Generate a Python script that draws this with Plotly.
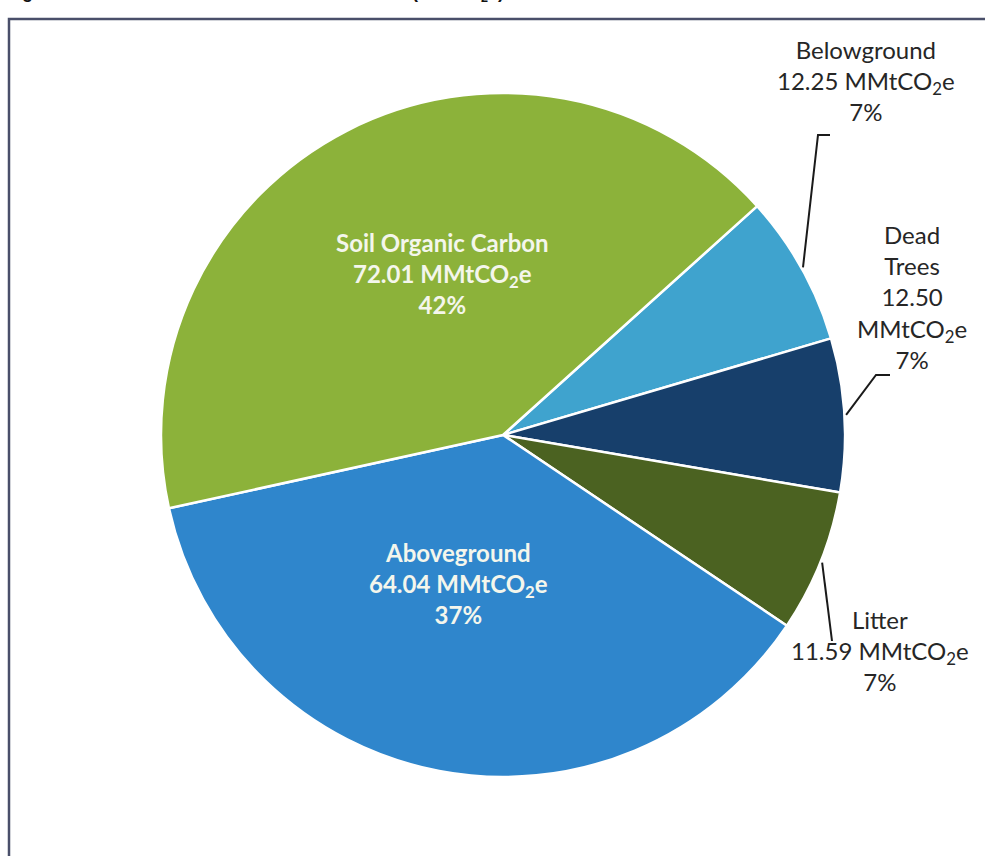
import math
import plotly.graph_objects as go

# ---- data ----
labels = ["Belowground", "Dead Trees", "Litter", "Aboveground", "Soil Organic Carbon"]
values = [12.25, 12.50, 11.59, 64.04, 72.01]
percents = ["7%", "7%", "7%", "37%", "42%"]
colors = ["#3FA3CE", "#173F6B", "#4B6221", "#2F86CC", "#8CB23A"]
title_text = "<b>Figure 13: 2015 Where Forest Carbon is Stored (MMtCO<sub>2</sub>e)</b>"

W, H = 985, 856
OFF = 0                      # body margin removed via post_script
CX, CY, R = 503, 435, 342    # pie centre / radius in page pixels
ROT = 48

def px(x):
    return (x - OFF) / W

def py(y):
    return 1 - (y - OFF) / H

fig = go.Figure(go.Pie(
    labels=labels, values=values, sort=False, direction="clockwise",
    rotation=ROT, marker=dict(colors=colors, line=dict(color="white", width=2.5)),
    textinfo="none", hoverinfo="label+value+percent", showlegend=False,
    domain=dict(x=[px(CX - R), px(CX + R)], y=[py(CY + R), py(CY - R)]),
))

total = sum(values)
mids = []
acc = 0
for v in values:
    mids.append(ROT + (acc + v / 2) / total * 360)
    acc += v

def edge(i, rf=1.0):
    a = math.radians(mids[i])
    return CX + R * rf * math.sin(a), CY - R * rf * math.cos(a)

def fmt(i, sep="<br>"):
    return f"{labels[i]}{sep}{values[i]:.2f} MMtCO<sub>2</sub>e<br>{percents[i]}"

FONT = "Lato, 'Open Sans', sans-serif"
ann = []

def add(x, y, text, size, color, **kw):
    d = dict(x=px(x), y=py(y), xref="paper", yref="paper", showarrow=False,
             xanchor="center", yanchor="middle", text=text, align="center",
             font=dict(family=FONT, size=size, color=color))
    d.update(kw)
    ann.append(d)

# inner labels
add(442, 273, "<b>" + fmt(4) + "</b>", 24, "#F4F6EC")
add(458, 583, "<b>" + fmt(3) + "</b>", 24, "#F4F6EC")
# outer labels
add(866, 80, fmt(0), 24, "#262626")
add(912, 297, "Dead<br>Trees<br>" + f"{values[1]:.2f}<br>MMtCO<sub>2</sub>e<br>{percents[1]}", 24, "#262626")
add(880, 650, fmt(2), 24, "#262626")
# clipped title at very top (only its lower edge shows, as in the scan)
ann.append(dict(x=px(4), y=py(7), xref="paper", yref="paper", xanchor="left", yanchor="bottom",
                showarrow=False, text=title_text,
                font=dict(family="Liberation Sans", size=18, color="#111")))

shapes = []
leader_ends = {0: [(818, 135), (830, 135)], 1: [(876, 375), (890, 375)], 2: [(832, 641)]}
for i, pts in leader_ends.items():
    x0, y0 = edge(i, 1.005)
    path = f"M {px(x0)},{py(y0)} " + " ".join(f"L {px(x)},{py(y)}" for x, y in pts)
    shapes.append(dict(type="path", xref="paper", yref="paper", path=path,
                       line=dict(color="#1a1a1a", width=2)))
# frame
shapes.append(dict(type="path", xref="paper", yref="paper",
                   path=f"M {px(9)},{py(900)} L {px(9)},{py(19)} L {px(1000)},{py(19)}",
                   line=dict(color="#4a4f6a", width=2.5)))

fig.update_layout(width=W, height=H, margin=dict(l=0, r=0, t=0, b=0),
                  paper_bgcolor="white", plot_bgcolor="white",
                  annotations=ann, shapes=shapes)
fig.write_html("out.html", config={"displayModeBar": False},
               post_script="document.body.style.margin='0';document.body.style.overflow='hidden';")
